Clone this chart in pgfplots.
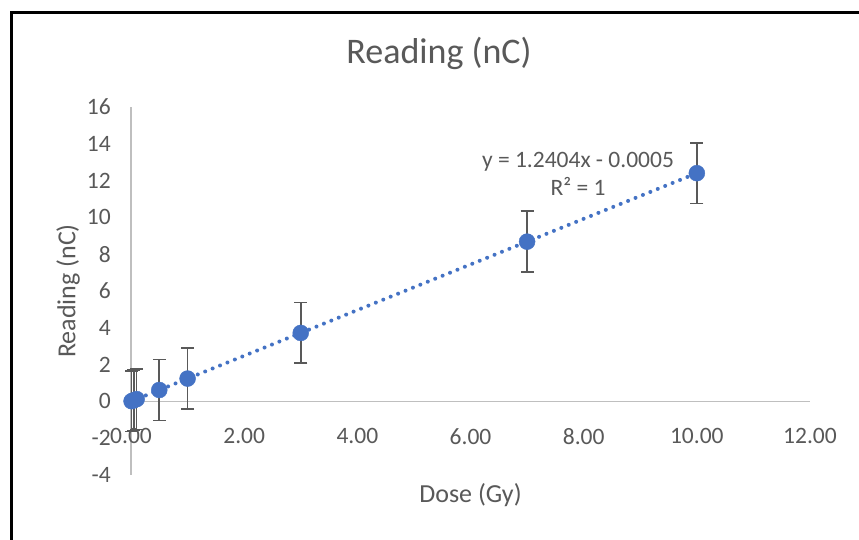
\documentclass[border=0pt]{standalone}
\usepackage{pgfplots}
\pgfplotsset{compat=1.18}
\usepackage{fontspec}
\setmainfont{Carlito}

\definecolor{txtgray}{HTML}{595959}
\definecolor{axisgray}{HTML}{BFBFBF}
\definecolor{ptblue}{HTML}{4472C4}
\definecolor{errgray}{HTML}{595959}

% Dose (Gy), reading (nC), error
\pgfplotstableread{
x     y       e
0.01  0.0119  1.65
0.05  0.0615  1.65
0.10  0.1235  1.65
0.50  0.6197  1.65
1.00  1.2399  1.65
3.00  3.7207  1.65
7.00  8.6823  1.65
10.00 12.4035 1.65
}\readings

\begin{document}
\begin{tikzpicture}[x=1pt,y=1pt]
\useasboundingbox (0,0) rectangle (859,540);
\fill[white] (0,0) rectangle (859,540);
% chart frame
\draw[line width=3pt, black] (11.5,-20) -- (11.5,527.5) -- (880,527.5);
\begin{axis}[
  at={(131pt,65pt)}, anchor=south west,
  scale only axis, width=679pt, height=368pt,
  xmin=0, xmax=12, ymin=-4, ymax=16,
  axis x line=middle, axis y line=left,
  axis line style={draw=axisgray, line width=1.3pt, -},
  hide obscured x ticks=false, hide obscured y ticks=false,
  major tick length=0pt,
  xtick={0,2,...,12}, ytick={-4,-2,...,16},
  /pgf/number format/assume math mode=true,
  xticklabel style={anchor=north, inner sep=0pt, yshift=-27pt,
    /pgf/number format/.cd, fixed, fixed zerofill, precision=2},
  yticklabel style={anchor=east, inner sep=0pt, xshift=-20pt,
    /pgf/number format/.cd, fixed, precision=0},
  ticklabel style={font=\fontsize{23.5}{28}\selectfont, text=txtgray},
  title={Reading (nC)},
  title style={at={(axis description cs:0.4536,1.1304)}, anchor=center,
    font=\fontsize{36}{42}\selectfont, text=txtgray},
  xlabel={Dose (Gy)},
  every axis x label/.style={at={(axis description cs:0.5,-0.0543)}, anchor=center,
    font=\fontsize{26}{30}\selectfont, text=txtgray},
  ylabel={Reading (nC)},
  every axis y label/.style={at={(axis description cs:-0.0928,0.5)}, rotate=90, anchor=center,
    font=\fontsize{26}{30}\selectfont, text=txtgray},
  clip=false,
]
% linear trendline y = 1.2404x - 0.0005
\addplot[ptblue, line width=4pt, dash pattern=on 0pt off 8pt, line cap=round, no marks]
  coordinates {(0,-0.0005) (10,12.4035)};
\addplot[only marks, mark=*, mark size=8pt, mark options={fill=ptblue, draw=ptblue},
  error bars/.cd, y dir=both, y explicit,
  error bar style={errgray, line width=1.6pt},
  error mark options={rotate=90, mark size=6.5pt, line width=1.6pt, errgray}]
  table[x=x, y=y, y error=e] {\readings};
\node[align=center, font=\fontsize{23.5}{28}\selectfont, text=txtgray]
  at (axis cs:7.9,12.35) {y = 1.2404x - 0.0005\\R² = 1};
\end{axis}
\end{tikzpicture}
\end{document}
